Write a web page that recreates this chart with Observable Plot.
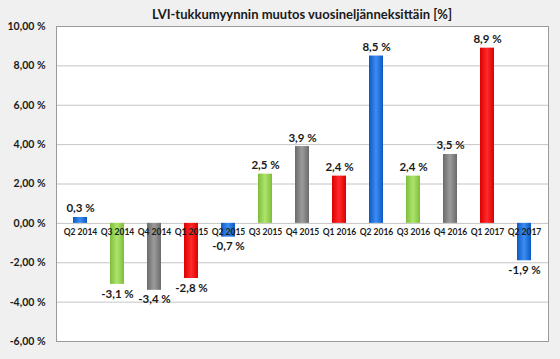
<!DOCTYPE html>
<html>
<head>
<meta charset="utf-8">
<script src="https://cdn.jsdelivr.net/npm/d3@7"></script>
<script src="https://cdn.jsdelivr.net/npm/@observablehq/plot@0.6"></script>
<style>
  html, body { margin: 0; padding: 0; background: #f0f0f0; }
  #wrap { width: 560px; height: 359px; position: relative; overflow: hidden; background: #f0f0f0; }
  #title { position: absolute; left: 56px; width: 492px; top: 6px; text-align: center;
           font-family: Lato, sans-serif; font-weight: bold; font-size: 13px; color: #1a1a1a; line-height: 16px; }
  #chart { position: absolute; left: 0; top: 20px; }
</style>
</head>
<body>
<div id="wrap">
  <div id="title">LVI-tukkumyynnin muutos vuosineljänneksittäin [%]</div>
  <div id="chart"></div>
</div>
<script>
const quarters = ["Q2 2014","Q3 2014","Q4 2014","Q1 2015","Q2 2015","Q3 2015","Q4 2015","Q1 2016","Q2 2016","Q3 2016","Q4 2016","Q1 2017","Q2 2017"];
const changes = [0.3, -3.1, -3.4, -2.8, -0.7, 2.5, 3.9, 2.4, 8.5, 2.4, 3.5, 8.9, -1.9];
const yTicks = [-6, -4, -2, 0, 2, 4, 6, 8, 10];
const quarterColors = {Q1: "red", Q2: "blue", Q3: "green", Q4: "gray"};

const data = quarters.map((q, i) => ({q, v: changes[i], c: quarterColors[q.slice(0, 2)]}));
const fmtTick = d => d.toFixed(2).replace(".", ",") + " %";
const fmtVal = d => d.toFixed(1).replace(".", ",") + " %";

const grads = {
  blue:  ["#0b58c4", "#3d8df2", "#0b58c4"],
  green: ["#7dbd3a", "#aee46c", "#7dbd3a"],
  gray:  ["#6a6a6a", "#9c9c9c", "#6a6a6a"],
  red:   ["#dd0000", "#ff2a2a", "#dd0000"]
};

const font = "Lato, sans-serif";
const plot = Plot.plot({
  width: 560,
  height: 339,
  marginLeft: 56,
  marginRight: 12,
  marginTop: 6,
  marginBottom: 18,
  style: {background: "transparent", fontFamily: font},
  x: {domain: quarters, paddingInner: 0.63, paddingOuter: 0.315, axis: null},
  y: {domain: [-6, 10], axis: null},
  marks: [
    Plot.frame({fill: "white", stroke: "none"}),
    Plot.ruleY(yTicks, {stroke: "#c4c4c4", strokeWidth: 1}),
    Plot.frame({stroke: "#9a9a9a", strokeWidth: 1}),
    ...Object.keys(grads).map(c =>
      Plot.barY(data.filter(d => d.c === c), {x: "q", y: "v", fill: `url(#grad-${c})`})
    ),
    Plot.text(yTicks, {y: d => d, text: fmtTick, frameAnchor: "left", textAnchor: "end", dx: -11,
      fontWeight: "bold", fontSize: 10.5, fill: "#1a1a1a"}),
    Plot.text(quarters, {x: d => d, y: () => 0, text: d => d, lineAnchor: "top", dy: 6,
      fontWeight: "bold", fontSize: 8.5, fill: "#1a1a1a"}),
    Plot.text(data.filter(d => d.v >= 0), {x: "q", y: "v", text: d => fmtVal(d.v), lineAnchor: "bottom", dy: -5,
      fontWeight: "bold", fontSize: 11.5, fill: "#1a1a1a"}),
    Plot.text(data.filter(d => d.v < 0), {x: "q", y: "v", text: d => fmtVal(d.v), lineAnchor: "top", dy: 5,
      fontWeight: "bold", fontSize: 11.5, fill: "#1a1a1a"})
  ]
});
const svg = d3.select(plot);
const defs = svg.insert("defs", ":first-child");
for (const [c, stops] of Object.entries(grads)) {
  const g = defs.append("linearGradient").attr("id", `grad-${c}`).attr("x1", "0").attr("x2", "1").attr("y1", "0").attr("y2", "0");
  stops.forEach((s, i) => g.append("stop").attr("offset", i / (stops.length - 1)).attr("stop-color", s));
}
document.getElementById("chart").appendChild(plot);
</script>
</body>
</html>
